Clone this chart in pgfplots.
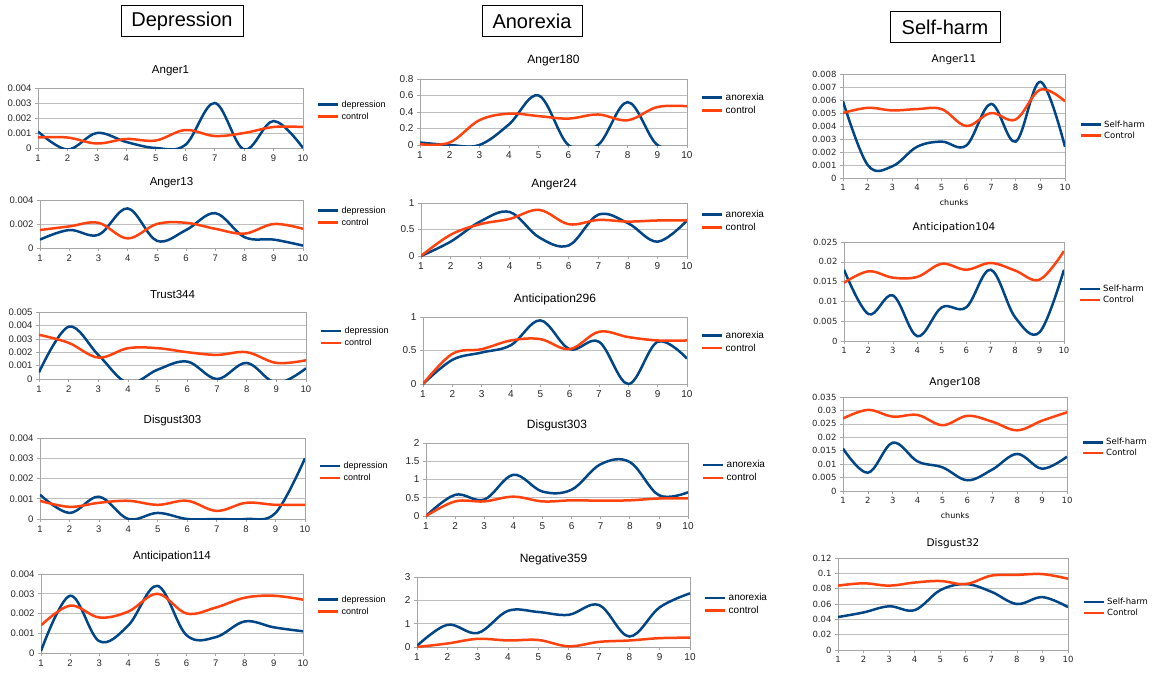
\documentclass[border=0pt]{standalone}
\usepackage{fontspec}
\setmainfont{Liberation Sans}
\newfontfamily\djv{DejaVu Sans}
\usepackage{pgfplots}
\pgfplotsset{compat=1.18}
\definecolor{lbblue}{HTML}{004586}
\definecolor{lbred}{HTML}{FF420E}
\pgfplotsset{
  base/.style={
    scale only axis, anchor=south west,
    xmin=1, xmax=10, ymin=0,
    xtick={1,2,3,4,5,6,7,8,9,10},
    ymajorgrids, grid style={draw=black!25, line width=0.6pt},
    axis line style={draw=black!35, line width=0.6pt},
    tick style={draw=black!35, line width=0.6pt},
    tick align=outside, major tick length=3pt, tick pos=left,
    scaled y ticks=false,
    /pgf/number format/fixed, /pgf/number format/precision=3,
    /pgf/number format/assume math mode=true,
    ticklabel style={text=black!85},
    legend style={draw=none, fill=none, anchor=west, inner sep=0pt},
    legend cell align=left,
    legend image code/.code={\draw[##1, line width=2.5pt] (0pt,0pt) -- (20pt,0pt);},
    title style={anchor=center, at={(0.5,1)}},
  },
  bl/.style={draw=lbblue, line width=2.5pt, smooth, tension=0.6},
  rd/.style={draw=lbred, line width=2.5pt, smooth, tension=0.6},
  dep/.style={base,
    ticklabel style={font=\fontsize{9.5}{11}\selectfont},
    title style={font=\fontsize{11.5}{13}\selectfont, yshift=11pt},
    legend style={font=\fontsize{9}{11}\selectfont, at={(1,#1)}, xshift=14pt}},
  ano/.style={base,
    ticklabel style={font=\fontsize{10}{12}\selectfont},
    title style={font=\fontsize{12}{14}\selectfont, yshift=12pt},
    legend style={font=\fontsize{10}{12}\selectfont, at={(1,#1)}, xshift=14pt}},
  sel/.style={base,
    ticklabel style={font=\djv\fontsize{8.5}{10}\selectfont},
    title style={font=\djv\fontsize{10.5}{12}\selectfont, yshift=8pt},
    legend style={font=\djv\fontsize{8.5}{10}\selectfont, at={(1,#1)}, xshift=15pt, nodes={inner sep=1.5pt}},
    xlabel style={font=\djv\fontsize{8}{9}\selectfont, yshift=-2pt}},
}
\begin{document}
\begin{tikzpicture}
\useasboundingbox (0,0) rectangle (1160pt,-675pt);
% column headers
\node[draw=black, line width=0.8pt, minimum width=122pt, minimum height=31pt, inner sep=0pt, font=\fontsize{20}{22}\selectfont] at (182pt,-21pt) {Depression};
\node[draw=black, line width=0.8pt, minimum width=100pt, minimum height=31pt, inner sep=0pt, font=\fontsize{20}{22}\selectfont] at (532pt,-21pt) {Anorexia};
\node[draw=black, line width=0.8pt, minimum width=110pt, minimum height=31pt, inner sep=0pt, font=\fontsize{20}{22}\selectfont] at (945pt,-27pt) {Self-harm};

% ===== Depression =====
\begin{axis}[dep=0.625, at={(38pt,-148pt)}, width=265pt, height=60pt, ymax=0.004,
  ytick={0,0.001,0.002,0.003,0.004}, title={Anger1}]
\addplot[bl] coordinates {(1,0.0011)(2,-0.0001)(3,0.001)(4,0.0004)(5,0)(6,0.0002)(7,0.003)(8,-0.0001)(9,0.0018)(10,0)};
\addplot[rd] coordinates {(1,0.0007)(2,0.0007)(3,0.0003)(4,0.0006)(5,0.0005)(6,0.0012)(7,0.0008)(8,0.001)(9,0.0014)(10,0.0014)};
\legend{depression,control}
\end{axis}

\begin{axis}[dep=0.656, at={(40pt,-248pt)}, width=263pt, height=48pt, ymax=0.004,
  ytick={0,0.002,0.004}, title={Anger13}]
\addplot[bl] coordinates {(1,0.0007)(2,0.0015)(3,0.0011)(4,0.0033)(5,0.0006)(6,0.0015)(7,0.0029)(8,0.0009)(9,0.0007)(10,0.0002)};
\addplot[rd] coordinates {(1,0.0015)(2,0.0018)(3,0.0021)(4,0.0008)(5,0.002)(6,0.0021)(7,0.0016)(8,0.0012)(9,0.002)(10,0.0016)};
\legend{depression,control}
\end{axis}

\begin{axis}[dep=0.627, at={(39pt,-379pt)}, width=267pt, height=67pt, ymax=0.005,
  ytick={0,0.001,0.002,0.003,0.004,0.005}, title={Trust344}]
\addplot[bl] coordinates {(1,0.0005)(2,0.0039)(3,0.0018)(4,-0.0003)(5,0.0007)(6,0.0013)(7,0)(8,0.0012)(9,-0.0003)(10,0.0008)};
\addplot[rd] coordinates {(1,0.0033)(2,0.0027)(3,0.0016)(4,0.0023)(5,0.0023)(6,0.002)(7,0.0018)(8,0.002)(9,0.0012)(10,0.0014)};
\legend{depression,control}
\end{axis}

\begin{axis}[dep=0.58, at={(40pt,-519pt)}, width=265pt, height=81pt, ymax=0.004,
  ytick={0,0.001,0.002,0.003,0.004}, title={Disgust303}]
\addplot[bl] coordinates {(1,0.0012)(2,0.0003)(3,0.0011)(4,0)(5,0.0003)(6,0)(7,0)(8,0)(9,0.0003)(10,0.003)};
\addplot[rd] coordinates {(1,0.0009)(2,0.0006)(3,0.0008)(4,0.0009)(5,0.0007)(6,0.0009)(7,0.0004)(8,0.0008)(9,0.0007)(10,0.0007)};
\legend{depression,control}
\end{axis}

\begin{axis}[dep=0.60, at={(41pt,-653pt)}, width=262pt, height=79pt, ymax=0.004,
  ytick={0,0.001,0.002,0.003,0.004}, title={Anticipation114}]
\addplot[bl] coordinates {(1,0.0001)(2,0.0029)(3,0.0006)(4,0.0014)(5,0.0034)(6,0.0009)(7,0.0008)(8,0.0016)(9,0.0013)(10,0.0011)};
\addplot[rd] coordinates {(1,0.0014)(2,0.0024)(3,0.0018)(4,0.0021)(5,0.003)(6,0.002)(7,0.0023)(8,0.0028)(9,0.0029)(10,0.0027)};
\legend{depression,control}
\end{axis}

% ===== Anorexia =====
\begin{axis}[ano=0.62, at={(420pt,-145pt)}, width=267pt, height=66pt, ymax=0.8,
  ytick={0,0.2,0.4,0.6,0.8}, title={Anger180}]
\addplot[bl] coordinates {(1,0.03)(2,0)(3,0)(4,0.25)(5,0.6)(6,0)(7,0)(8,0.52)(9,0)(10,-0.04)};
\addplot[rd] coordinates {(1,0.01)(2,0.03)(3,0.3)(4,0.38)(5,0.35)(6,0.32)(7,0.37)(8,0.3)(9,0.46)(10,0.47)};
\legend{anorexia,control}
\end{axis}

\begin{axis}[ano=0.66, at={(421pt,-256pt)}, width=266pt, height=53pt, ymax=1,
  ytick={0,0.5,1}, title={Anger24}]
\addplot[bl] coordinates {(1,0)(2,0.27)(3,0.65)(4,0.83)(5,0.35)(6,0.2)(7,0.78)(8,0.62)(9,0.27)(10,0.67)};
\addplot[rd] coordinates {(1,0)(2,0.4)(3,0.6)(4,0.7)(5,0.87)(6,0.6)(7,0.68)(8,0.65)(9,0.67)(10,0.67)};
\legend{anorexia,control}
\end{axis}

\begin{axis}[ano=0.63, at={(423pt,-384pt)}, width=264pt, height=67pt, ymax=1,
  ytick={0,0.5,1}, title={Anticipation296}]
\addplot[bl] coordinates {(1,0)(2,0.36)(3,0.47)(4,0.58)(5,0.95)(6,0.52)(7,0.63)(8,0)(9,0.63)(10,0.38)};
\addplot[rd] coordinates {(1,0)(2,0.45)(3,0.52)(4,0.65)(5,0.67)(6,0.52)(7,0.78)(8,0.7)(9,0.65)(10,0.65)};
\legend{anorexia,control}
\end{axis}

\begin{axis}[ano=0.61, at={(426pt,-516pt)}, width=262pt, height=73pt, ymax=2,
  ytick={0,0.5,1,1.5,2}, title={Disgust303}]
\addplot[bl] coordinates {(1,0)(2,0.58)(3,0.45)(4,1.13)(5,0.67)(6,0.72)(7,1.42)(8,1.48)(9,0.57)(10,0.65)};
\addplot[rd] coordinates {(1,0)(2,0.4)(3,0.4)(4,0.53)(5,0.4)(6,0.43)(7,0.42)(8,0.43)(9,0.48)(10,0.48)};
\legend{anorexia,control}
\end{axis}

\begin{axis}[ano=0.61, at={(417pt,-647pt)}, width=273pt, height=70pt, ymax=3,
  ytick={0,1,2,3}, title={Negative359}]
\addplot[bl] coordinates {(1,0.05)(2,0.95)(3,0.6)(4,1.55)(5,1.5)(6,1.38)(7,1.8)(8,0.45)(9,1.7)(10,2.3)};
\addplot[rd] coordinates {(1,0)(2,0.15)(3,0.35)(4,0.28)(5,0.3)(6,0.03)(7,0.22)(8,0.28)(9,0.38)(10,0.4)};
\legend{anorexia,control}
\end{axis}

% ===== Self-harm =====
\begin{axis}[sel=0.46, at={(843pt,-178pt)}, width=222pt, height=104pt, ymax=0.008,
  ytick={0,0.001,0.002,0.003,0.004,0.005,0.006,0.007,0.008}, title={Anger11}, xlabel={chunks}]
\addplot[bl] coordinates {(1,0.0059)(2,0.001)(3,0.0009)(4,0.0024)(5,0.0028)(6,0.0025)(7,0.0057)(8,0.0028)(9,0.0074)(10,0.0024)};
\addplot[rd] coordinates {(1,0.005)(2,0.0054)(3,0.0052)(4,0.0053)(5,0.0053)(6,0.004)(7,0.005)(8,0.0045)(9,0.0068)(10,0.0059)};
\legend{Self-harm,Control}
\end{axis}

\begin{axis}[sel=0.47, at={(844pt,-341pt)}, width=220pt, height=99pt, ymax=0.025,
  ytick={0,0.005,0.01,0.015,0.02,0.025}, title={Anticipation104}]
\addplot[bl] coordinates {(1,0.018)(2,0.0068)(3,0.0115)(4,0.0012)(5,0.0085)(6,0.0085)(7,0.018)(8,0.006)(9,0.0022)(10,0.018)};
\addplot[rd] coordinates {(1,0.0147)(2,0.0176)(3,0.016)(4,0.0162)(5,0.0195)(6,0.018)(7,0.0197)(8,0.0178)(9,0.0155)(10,0.0227)};
\legend{Self-harm,Control}
\end{axis}

\begin{axis}[sel=0.46, at={(843pt,-491pt)}, width=224pt, height=94pt, ymax=0.035,
  ytick={0,0.005,0.01,0.015,0.02,0.025,0.03,0.035}, title={Anger108}, xlabel={chunks}]
\addplot[bl] coordinates {(1,0.0158)(2,0.0068)(3,0.018)(4,0.011)(5,0.0088)(6,0.004)(7,0.008)(8,0.0138)(9,0.0083)(10,0.0128)};
\addplot[rd] coordinates {(1,0.027)(2,0.0302)(3,0.0277)(4,0.0283)(5,0.0245)(6,0.028)(7,0.0258)(8,0.0226)(9,0.0262)(10,0.0293)};
\legend{Self-harm,Control}
\end{axis}

\begin{axis}[sel=0.46, at={(838pt,-650pt)}, width=230pt, height=92pt, ymax=0.12,
  ytick={0,0.02,0.04,0.06,0.08,0.1,0.12}, title={Disgust32}]
\addplot[bl] coordinates {(1,0.043)(2,0.049)(3,0.057)(4,0.052)(5,0.078)(6,0.086)(7,0.076)(8,0.06)(9,0.069)(10,0.056)};
\addplot[rd] coordinates {(1,0.084)(2,0.087)(3,0.084)(4,0.088)(5,0.09)(6,0.086)(7,0.097)(8,0.098)(9,0.099)(10,0.093)};
\legend{Self-harm,Control}
\end{axis}
\end{tikzpicture}
\end{document}
